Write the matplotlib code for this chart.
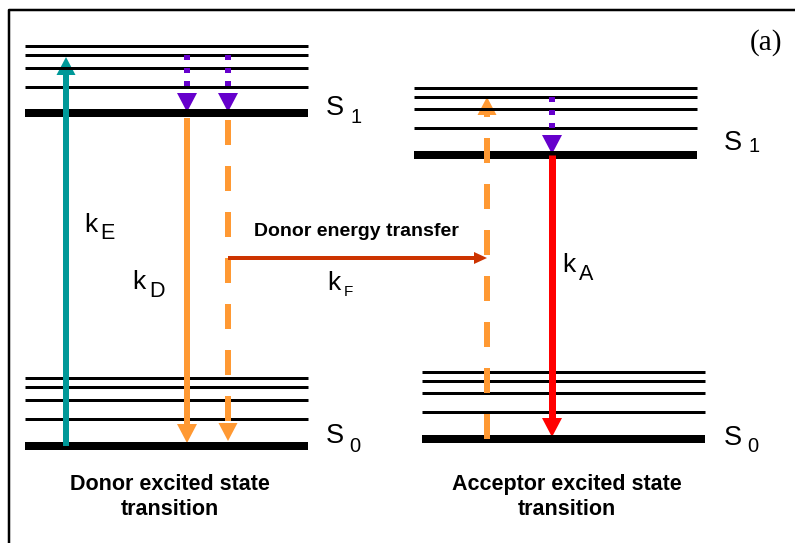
#!/usr/bin/env python3
"""Jablonski-style diagram of donor/acceptor transitions (FRET)."""
import matplotlib

matplotlib.use("Agg")
import matplotlib.pyplot as plt

W, H, DPI = 795, 543, 100
PT = 72.0 / DPI  # pixels -> points

TEAL = "#009999"
ORANGE = "#FF9933"
PURPLE = "#6600CC"
RED = "#FF0000"
TRANSFER = "#CC3300"

# energy levels (pixel rows, top = high energy); last entry is the thick ground vibrational level
DONOR_X = (25, 308)
DONOR_S1 = [46, 55, 68, 87, 113]
DONOR_S0 = [378, 387, 400, 419, 446]
ACC_S1_X = (414, 697)
ACC_S1 = [88, 97, 109, 128, 155]
ACC_S0_X = (422, 705)
ACC_S0 = [372, 381, 393, 412, 439]

# transition columns
X_EXC, X_DON, X_DON_T = 66, 187, 228
X_ACC_UP, X_ACC = 487, 552

plt.rcParams["lines.scale_dashes"] = False
SANS = "Liberation Sans"


def levels(ax, xr, ys):
    for y in ys[:-1]:
        ax.plot(xr, [y, y], color="black", lw=3 * PT, solid_capstyle="butt")
    ax.plot(xr, [ys[-1], ys[-1]], color="black", lw=8 * PT, solid_capstyle="butt")


def varrow(ax, x, y0, y1, color, width=6, head=18, dashes=None):
    d = 1 if y1 > y0 else -1
    base = y1 - d * head
    kw = dict(color=color, lw=width * PT, solid_capstyle="butt", dash_capstyle="butt")
    line, = ax.plot([x, x], [y0, base], **kw)
    if dashes:
        line.set_dashes(dashes)
    hw = head / 2 + 0.5
    ax.fill([x - hw, x + hw, x], [base, base, y1], color=color, lw=0)


def label(ax, x, y, main, sub, size, subsize, dx, dy):
    ax.text(x, y, main, fontsize=size, family=SANS, ha="left", va="baseline")
    ax.text(x + dx, y + dy, sub, fontsize=subsize, family=SANS, ha="left", va="baseline")


fig = plt.figure(figsize=(W / DPI, H / DPI), dpi=DPI)
ax = fig.add_axes([0, 0, 1, 1])
ax.set_xlim(0, W)
ax.set_ylim(H, 0)
ax.axis("off")

# frame (left and top edges visible)
ax.plot([9, 9, W + 5], [H + 5, 10, 10], color="black", lw=2.5 * PT)

levels(ax, DONOR_X, DONOR_S1)
levels(ax, DONOR_X, DONOR_S0)
levels(ax, ACC_S1_X, ACC_S1)
levels(ax, ACC_S0_X, ACC_S0)

# donor excitation
varrow(ax, X_EXC, DONOR_S0[-1], DONOR_S1[1] + 2, TEAL)
# vibrational relaxation (dotted)
dots = (5 * PT, 8 * PT)
varrow(ax, X_DON, DONOR_S1[1], DONOR_S1[-1] - 1, PURPLE, width=6, head=19, dashes=dots)
varrow(ax, X_DON_T, DONOR_S1[1], DONOR_S1[-1] - 1, PURPLE, width=6, head=19, dashes=dots)
varrow(ax, X_ACC, ACC_S1[1], ACC_S1[-1] - 1, PURPLE, width=6, head=19, dashes=dots)
# donor emission and donor relaxation via transfer
varrow(ax, X_DON, DONOR_S1[-1] + 5, DONOR_S0[-1] - 3, ORANGE, head=19)
dash = (25 * PT, 21 * PT)
varrow(ax, X_DON_T, DONOR_S1[-1] + 7, DONOR_S0[-1] - 5, ORANGE, head=18, dashes=dash)
# acceptor excitation through transfer
varrow(ax, X_ACC_UP, ACC_S0[-1], ACC_S1[1], ORANGE, head=18, dashes=dash)
# acceptor emission
varrow(ax, X_ACC, ACC_S1[-1], ACC_S0[-1] - 2, RED, width=7, head=19)

# energy transfer arrow
y_t = 258
ax.plot([X_DON_T, X_ACC_UP - 12], [y_t, y_t], color=TRANSFER, lw=4 * PT, solid_capstyle="butt")
ax.fill([X_ACC_UP - 13, X_ACC_UP - 13, X_ACC_UP], [y_t - 6, y_t + 6, y_t], color=TRANSFER, lw=0)
ax.text(356, 232, "Donor energy transfer", fontsize=14, family=SANS, weight="bold",
        ha="center", va="center")

label(ax, 84, 232, "k", "E", 19, 15.5, 16, 7)
label(ax, 132, 289, "k", "D", 19, 15.5, 17, 8)
label(ax, 327, 290, "k", "F", 19, 11, 17, 6)
label(ax, 562, 272, "k", "A", 19, 15.5, 17, 8)

label(ax, 326, 115, "S", "1", 19.5, 14.5, 25, 8)
label(ax, 326, 443, "S", "0", 19.5, 14.5, 23, 9)
label(ax, 724, 150, "S", "1", 19.5, 14.5, 25, 2)
label(ax, 724, 445, "S", "0", 19.5, 14.5, 23, 7)

ax.text(766, 43, "(a)", fontsize=21, family="Liberation Serif", ha="center", va="center")

ax.text(170, 497, "Donor excited state\ntransition", fontsize=15.5, family=SANS, weight="bold",
        ha="center", va="center", linespacing=1.3)
ax.text(567, 497, "Acceptor excited state\ntransition", fontsize=15.5, family=SANS, weight="bold",
        ha="center", va="center", linespacing=1.3)

fig.savefig("out.png", dpi=DPI)
